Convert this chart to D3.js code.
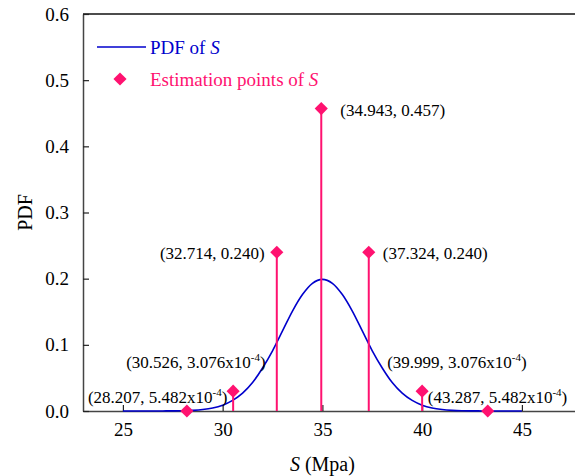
<!DOCTYPE html>
<html>
<head>
<meta charset="utf-8">
<script src="https://cdn.jsdelivr.net/npm/d3@7"></script>
<style>
	body { margin: 0; background: #fff; }
	svg, svg text { font-family: "Liberation Serif", "DejaVu Serif", serif !important; }
</style>
</head>
<body>
<script>
const width = 575
const height = 476
const margin = { top: 14, left: 83, bottom: 65 }
const serif = '"Liberation Serif", "DejaVu Serif", serif'

// PDF of S
const pdfX = [25, 25.5, 26, 26.5, 27, 27.5, 28, 28.5, 29, 29.5, 30, 30.5, 31, 31.5, 32, 32.5, 33, 33.5, 34, 34.5,
	35, 35.5, 36, 36.5, 37, 37.5, 38, 38.5, 39, 39.5, 40, 40.5, 41, 41.5, 42, 42.5, 43, 43.5, 44, 44.5, 45]
const pdfY = [0, 0, 0, 0, 0.0001, 0.0002, 0.0004, 0.001, 0.0022, 0.0045, 0.0088, 0.016, 0.027, 0.043, 0.065, 0.091, 0.121, 0.151, 0.176, 0.193,
	0.199, 0.193, 0.176, 0.151, 0.121, 0.091, 0.065, 0.043, 0.027, 0.016, 0.0088, 0.0045, 0.0022, 0.001, 0.0004, 0.0002, 0.0001, 0, 0, 0, 0]

// estimation points
const estX = [28.207, 30.526, 32.714, 34.943, 37.324, 39.999, 43.287]
const estY = [0, 0.03, 0.24, 0.457, 0.24, 0.03, 0]
const estLabelMain = ['(28.207, 5.482x10', '(30.526, 3.076x10', '(32.714, 0.240)', '(34.943, 0.457)', '(37.324, 0.240)', '(39.999, 3.076x10', '(43.287, 5.482x10']
const estLabelSup = ['-4', '-4', '', '', '', '-4', '-4']

const xTicks = [25, 30, 35, 40, 45]
const yTicks = [0, 0.1, 0.2, 0.3, 0.4, 0.5, 0.6]

// label offsets from each diamond: [dx, dy, anchor]
const labelPos = [[-99, -8, 'start'], [-107, -23, 'start'], [-12, 7, 'end'], [19, 7, 'start'], [14, 7, 'start'], [-35, -23, 'start'], [-60, -8, 'start']]

const blue = '#0000cc'
const pink = '#ff1270'

const xScale = d3.scaleLinear()
	.domain([23, 48])
	.range([margin.left, margin.left + 25 * 19.95])

const yScale = d3.scaleLinear()
	.domain([0, 0.6])
	.range([height - margin.bottom, margin.top])

const svg = d3.select('body')
	.append('svg')
	.attr('width', width)
	.attr('height', height)
	.attr('font-family', serif)

// top frame line
svg.append('line')
	.attr('x1', margin.left)
	.attr('x2', xScale(48))
	.attr('y1', yScale(0.6))
	.attr('y2', yScale(0.6))
	.attr('stroke', '#111')
	.attr('stroke-width', 1.5)

const xAxis = d3.axisBottom(xScale)
	.tickValues(xTicks)
	.tickSizeInner(-6)
	.tickSizeOuter(0)
	.tickPadding(12)
	.tickFormat(d3.format('d'))

const yAxis = d3.axisLeft(yScale)
	.tickValues(yTicks)
	.tickSizeInner(-6)
	.tickSizeOuter(0)
	.tickPadding(14)
	.tickFormat(d3.format('.1f'))

const gx = svg.append('g')
	.attr('transform', `translate(0,${yScale(0)})`)
	.call(xAxis)

const gy = svg.append('g')
	.attr('transform', `translate(${margin.left},0)`)
	.call(yAxis)

;[gx, gy].forEach(g => {
	g.attr('font-family', serif)
	g.select('.domain').attr('stroke', '#444').attr('stroke-width', 1.5)
	g.selectAll('.tick line').attr('stroke', '#222').attr('stroke-width', 1.2)
	g.selectAll('.tick text')
		.attr('fill', '#000')
		.style('font-size', '19px')
})

// axis titles
svg.append('text')
	.attr('x', xScale(35))
	.attr('y', 471)
	.attr('text-anchor', 'middle')
	.style('font-size', '20px')
	.call(t => {
		t.append('tspan').attr('font-style', 'italic').text('S')
		t.append('tspan').text(' (Mpa)')
	})

svg.append('text')
	.attr('transform', `translate(32,${yScale(0.3)}) rotate(-90)`)
	.attr('text-anchor', 'middle')
	.style('font-size', '20px')
	.text('PDF')

// pdf curve
const lineMaker = d3.line()
	.x((d, i) => xScale(pdfX[i]))
	.y(d => yScale(d))
	.curve(d3.curveMonotoneX)

svg.append('path')
	.attr('d', lineMaker(pdfY))
	.attr('fill', 'none')
	.attr('stroke', blue)
	.attr('stroke-width', 1.6)

// stems + diamonds
const diamond = d3.symbol().type(d3.symbolDiamond2).size(110)

const pts = svg.append('g')
	.selectAll('g')
	.data(estX)
	.enter()
	.append('g')

pts.append('line')
	.attr('x1', d => xScale(d))
	.attr('x2', d => xScale(d))
	.attr('y1', yScale(0))
	.attr('y2', (d, i) => yScale(estY[i]))
	.attr('stroke', pink)
	.attr('stroke-width', 2)

pts.append('path')
	.attr('d', diamond)
	.attr('transform', (d, i) => `translate(${xScale(d)},${yScale(estY[i])})`)
	.attr('fill', pink)

pts.append('text')
	.attr('x', (d, i) => xScale(d) + labelPos[i][0])
	.attr('y', (d, i) => yScale(estY[i]) + labelPos[i][1])
	.attr('text-anchor', (d, i) => labelPos[i][2])
	.style('font-size', '17px')
	.each(function (d, i) {
		const t = d3.select(this)
		t.append('tspan').text(estLabelMain[i])
		if (estLabelSup[i]) {
			t.append('tspan').attr('dy', -7).style('font-size', '11px').text(estLabelSup[i])
			t.append('tspan').attr('dy', 7).text(')')
		}
	})

// legend
svg.append('line')
	.attr('x1', 97).attr('x2', 146)
	.attr('y1', 47).attr('y2', 47)
	.attr('stroke', blue)
	.attr('stroke-width', 1.5)

svg.append('text')
	.attr('x', 150)
	.attr('y', 54)
	.attr('fill', blue)
	.style('font-size', '19px')
	.call(t => {
		t.append('tspan').text('PDF of ')
		t.append('tspan').attr('font-style', 'italic').text('S')
	})

svg.append('path')
	.attr('d', diamond)
	.attr('transform', 'translate(120,79)')
	.attr('fill', pink)

svg.append('text')
	.attr('x', 150)
	.attr('y', 86)
	.attr('fill', pink)
	.style('font-size', '19px')
	.call(t => {
		t.append('tspan').text('Estimation points of ')
		t.append('tspan').attr('font-style', 'italic').text('S')
	})
</script>
</body>
</html>
